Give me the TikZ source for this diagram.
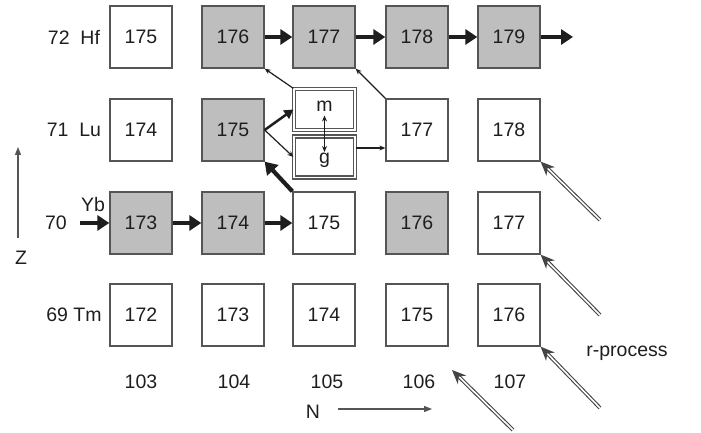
\documentclass[tikz,border=0pt]{standalone}
\usepackage{fontspec}
\setmainfont{Liberation Sans}
\usepackage{xcolor}
\usetikzlibrary{positioning,calc,arrows.meta}

\definecolor{isofill}{RGB}{190,190,190}
\definecolor{isoline}{RGB}{85,85,85}
\definecolor{inkdark}{RGB}{30,30,30}

\tikzset{
    isobox/.style={draw=isoline, line width=1.3pt, fill=white, minimum size=62pt, inner sep=0pt, text=inkdark},
    grayiso/.style={isobox, fill=isofill},
    metabox/.style={draw=isoline, line width=1.3pt, double=white, double distance=1.5pt, minimum width=61pt, minimum height=41pt, inner sep=0pt, text=inkdark},
    bigarrow/.style={draw=inkdark, line width=4.2pt, -{Triangle[length=12pt,width=15pt]}},
    thinarrow/.style={draw=inkdark, line width=1.2pt, -{Stealth[length=6pt,width=5pt]}},
    rarrow/.style={draw=isoline!80!black, line width=1.1pt, double=white, double distance=1.6pt, -{Stealth[length=14pt,width=12pt]}},
    axisarrow/.style={draw=isoline, line width=1.2pt, -{Triangle[length=8pt,width=6pt]}},
    lbl/.style={text=inkdark}
}

\begin{document}
\begin{tikzpicture}[x=1pt, y=1pt, font=\fontsize{19.5}{22}\selectfont]
    \useasboundingbox (0,0) rectangle (701,433);

    % Hf row
    \node[isobox]  (hf175) at (141,396) {175};
    \node[grayiso] (hf176) at (233,396) {176};
    \node[grayiso] (hf177) at (324,396) {177};
    \node[grayiso] (hf178) at (417,396) {178};
    \node[grayiso] (hf179) at (509,396) {179};
    \coordinate (hfout) at (573,396);

    % Lu row
    \node[isobox]  (lu174) at (141,303) {174};
    \node[grayiso] (lu175) at (233,303) {175};
    \node[metabox] (lum) at (324.5,323.5) {};
    \node[metabox] (lug) at (324.5,276) {};
    \node[lbl] (mlbl) at (324.5,327) {m};
    \node[lbl] (glbl) at (324.5,273) {g};
    \node[isobox]  (lu177) at (417,303) {177};
    \node[isobox]  (lu178) at (509,303) {178};

    % Yb row
    \node[grayiso] (yb173) at (141,210) {173};
    \node[grayiso] (yb174) at (233,210) {174};
    \node[isobox]  (yb175) at (324,210) {175};
    \node[grayiso] (yb176) at (417,210) {176};
    \node[isobox]  (yb177) at (509,210) {177};
    \coordinate (ybin) at (80,210);

    % Tm row
    \node[isobox] (tm172) at (141,118) {172};
    \node[isobox] (tm173) at (233,118) {173};
    \node[isobox] (tm174) at (324,118) {174};
    \node[isobox] (tm175) at (417,118) {175};
    \node[isobox] (tm176) at (509,118) {176};

    % element labels
    \node[lbl] (zhf) at (74,396) {72~~Hf};
    \node[lbl] (zlu) at (74,303) {71~~Lu};
    \node[lbl] (zyb) at (56,210) {70};
    \node[lbl] (nyb) at (93,228) {Yb};
    \node[lbl] (ztm) at (74,118) {69 Tm};

    % neutron numbers
    \node[lbl] (n103) at (141,51) {103};
    \node[lbl] (n104) at (234,51) {104};
    \node[lbl] (n105) at (327,51) {105};
    \node[lbl] (n106) at (419,51) {106};
    \node[lbl] (n107) at (510,51) {107};

    % axes
    \node[lbl] (zaxis) at (21,175) {Z};
    \coordinate (z0) at (18,195);
    \coordinate (z1) at (18,286);
    \draw[axisarrow] (z0) -- (z1);
    \node[lbl] (naxis) at (313,21) {N};
    \coordinate (n0) at (338,24);
    \coordinate (n1) at (432,24);
    \draw[axisarrow] (n0) -- (n1);

    % s-process flow
    \draw[bigarrow] (hf176) -- (hf177);
    \draw[bigarrow] (hf177) -- (hf178);
    \draw[bigarrow] (hf178) -- (hf179);
    \draw[bigarrow] (hf179) -- (hfout);
    \draw[bigarrow] (ybin) -- (yb173);
    \draw[bigarrow] (yb173) -- (yb174);
    \draw[bigarrow] (yb174) -- (yb175);
    \draw[bigarrow] (yb175.north west) -- (lu175.south east);
    \draw[bigarrow, line width=2.5pt, -{Triangle[length=9pt,width=10pt]}] (lu175.east) -- (lum.west);
    \draw[thinarrow] (lu175.east) -- (lug.west);
    \draw[thinarrow, {Stealth[length=6pt,width=5pt]}-{Stealth[length=6pt,width=5pt]}] ([yshift=-6pt]lum.center) -- ([yshift=5pt]lug.center);
    \coordinate (gout) at ([yshift=9pt]lug.east);
    \draw[thinarrow] (gout) -- (gout -| lu177.west);
    \draw[thinarrow] (lum.north west) -- (hf176.south east);
    \draw[thinarrow] (lu177.north west) -- (hf177.south east);

    % r-process feeding
    \coordinate (r1) at (600,213);
    \coordinate (r2) at (600,118);
    \coordinate (r3) at (600,25);
    \coordinate (r4) at (513,3);
    \coordinate (r4end) at (452,63);
    \draw[rarrow] (r1) -- (lu178.south east);
    \draw[rarrow] (r2) -- (yb177.south east);
    \draw[rarrow] (r3) -- (tm176.south east);
    \draw[rarrow] (r4) -- (r4end);
    \node[lbl] (rproc) at (627,80) {r-process};
\end{tikzpicture}
\end{document}
